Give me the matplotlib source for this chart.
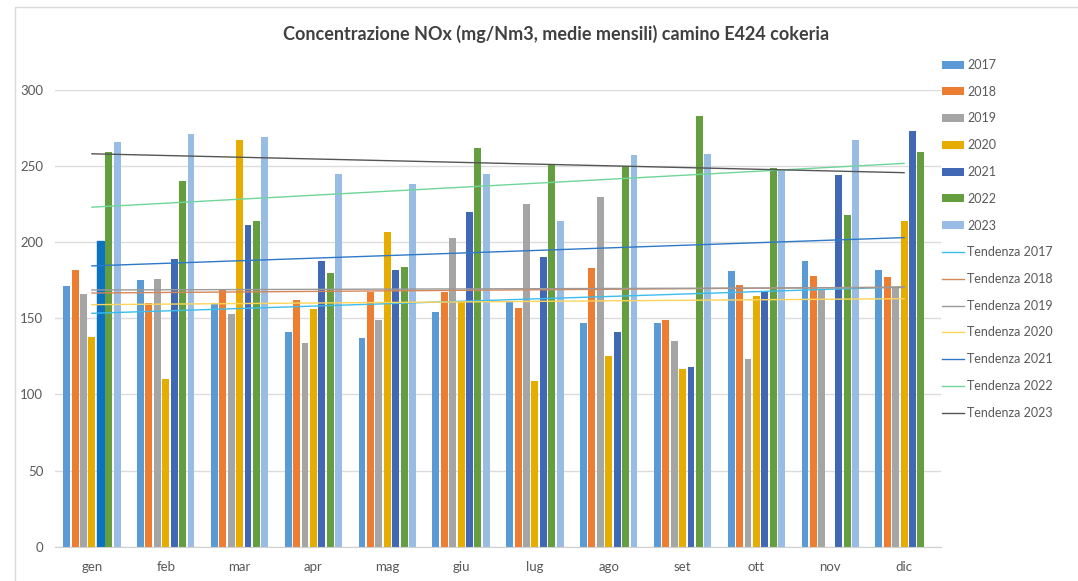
import numpy as np
import matplotlib
matplotlib.use("Agg")
import matplotlib.pyplot as plt
from matplotlib.lines import Line2D
from matplotlib.patches import Patch, Rectangle

# ── Data ──────────────────────────────────────────────────────────────────────

months = ["gen", "feb", "mar", "apr", "mag", "giu", "lug", "ago", "set", "ott", "nov", "dic"]
years = ["2017", "2018", "2019", "2020", "2021", "2022", "2023"]

nox_2017 = [171, 175, 160, 141, 137, 154, 161, 147, 147, 181, 188, 182]
nox_2018 = [182, 160, 169, 162, 167, 167, 157, 183, 149, 172, 178, 177]
nox_2019 = [166, 176, 153, 134, 149, 203, 225, 230, 135, 123, 169, 170]
nox_2020 = [138, 110, 267, 156, 207, 161, 109, 125, 117, 165, np.nan, 214]
nox_2021 = [201, 189, 211, 188, 182, 220, 190, 141, 118, 168, 244, 273]
nox_2022 = [259, 240, 214, 180, 184, 262, 251, 250, 283, 249, 218, 259]
nox_2023 = [266, 271, 269, 245, 238, 245, 214, 257, 258, 247, 267, np.nan]

series = [nox_2017, nox_2018, nox_2019, nox_2020, nox_2021, nox_2022, nox_2023]

# ── Style ─────────────────────────────────────────────────────────────────────

BAR_COLORS   = ["#5b9bd5", "#ed7d31", "#a5a5a5", "#e6ad00", "#4068b4", "#659e3f", "#98bce3"]
TREND_COLORS = ["#3bbcee", "#d5875a", "#9a9a9a", "#ffd45a", "#2e78c8", "#6fd69a", "#555555"]
GRID  = "#dcdcdc"
TXT   = "#595959"
TITLE = "#404040"
FONT  = "Lato"

W, H = 1078, 581
fig = plt.figure(figsize=(W / 100, H / 100), dpi=100)
fig.patch.set_facecolor("white")

# chart frame
fig.add_artist(Rectangle((15 / W, -0.1), 1.2, 1.1 - 7 / H, transform=fig.transFigure,
                         fill=False, ec="#d9d9d9", lw=1.0))

ax = fig.add_axes([55 / W, (H - 546.7) / H, 886 / W, 456.7 / H])
ax.set_xlim(-0.5, len(months) - 0.5)
ax.set_ylim(0, 300)

x = np.arange(len(months))
n = len(series)
slot = 0.114
bw = 0.094

bar_groups = []
for i, vals in enumerate(series):
    off = (i - (n - 1) / 2) * slot
    b = ax.bar(x + off, vals, bw, color=BAR_COLORS[i], zorder=2)
    bar_groups.append(b)

# gen 2021 bar is drawn in a brighter blue in the original
bar_groups[4][0].set_color("#0a72c2")

# linear trend lines
for i, vals in enumerate(series):
    v = np.array(vals, dtype=float)
    ok = ~np.isnan(v)
    k, q = np.polyfit(x[ok] + 1, v[ok], 1)
    ax.plot([x[0], x[-1]], [k * 1 + q, k * 12 + q], color=TREND_COLORS[i], lw=1.0, zorder=3)

ax.set_yticks(range(0, 301, 50))
ax.set_xticks(x)
ax.set_xticklabels(months)
ax.yaxis.grid(True, color=GRID, lw=1.0, zorder=0)
ax.set_axisbelow(True)
for s in ["top", "right", "left"]:
    ax.spines[s].set_visible(False)
ax.spines["bottom"].set_color("#d0d0d0")
ax.tick_params(length=0, colors=TXT, labelsize=9.5)
ax.tick_params(axis="y", pad=8.5)
ax.tick_params(axis="x", pad=10)
for lbl in ax.get_xticklabels() + ax.get_yticklabels():
    lbl.set_fontfamily(FONT)

fig.text(556 / W, 1 - 34 / H, "Concentrazione NOx (mg/Nm3, medie mensili) camino E424 cokeria",
         ha="center", va="center", fontsize=13, fontweight="bold", color=TITLE, fontfamily=FONT)

# legend
handles = [Patch(fc=c, ec="none") for c in BAR_COLORS]
handles += [Line2D([], [], color=c, lw=1.0) for c in TREND_COLORS]
labels = years + [f"Tendenza {y}" for y in years]
leg = fig.legend(handles, labels, loc="upper left", bbox_to_anchor=(942 / W, 1 - 59 / H),
                 frameon=False, prop={"family": FONT, "size": 9}, labelcolor=TXT,
                 handlelength=1.75, handleheight=0.6, handletextpad=0.25,
                 labelspacing=1.18, borderaxespad=0, borderpad=0)

fig.savefig("out.png", dpi=100, facecolor="white")
